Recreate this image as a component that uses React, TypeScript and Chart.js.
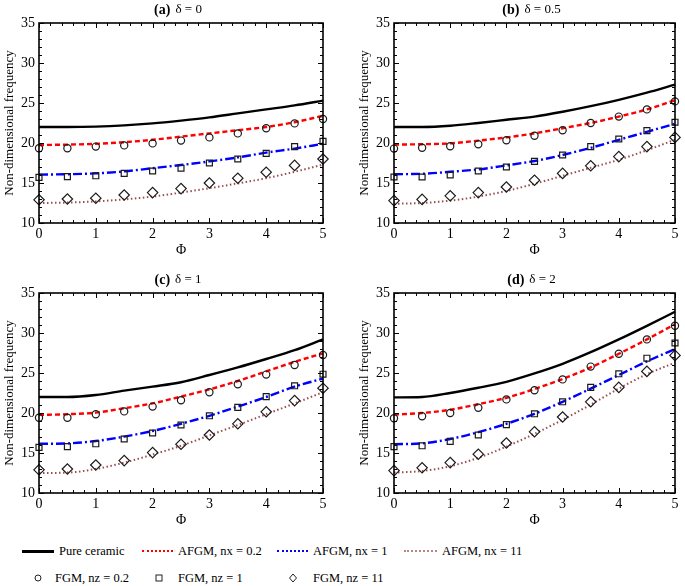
import React, { useEffect, useRef } from 'react';
import { Chart, registerables } from 'chart.js';

Chart.register(...registerables);

// ---------- data ----------
const phi = [0, 0.5, 1, 1.5, 2, 2.5, 3, 3.5, 4, 4.5, 5];
const xTicks = [0, 1, 2, 3, 4, 5];
const yTicks = [10, 15, 20, 25, 30, 35];

const seriesNames = [
  'Pure ceramic',
  'AFGM, nx = 0.2',
  'AFGM, nx = 1',
  'AFGM, nx = 11',
  'FGM, nz = 0.2',
  'FGM, nz = 1',
  'FGM, nz = 11',
];

// (a) δ = 0
const pureA = [22.0, 22.0, 22.05, 22.2, 22.45, 22.8, 23.2, 23.7, 24.2, 24.7, 25.3];
const afgm02A = [19.75, 19.8, 19.9, 20.1, 20.4, 20.8, 21.2, 21.6, 22.0, 22.6, 23.4];
const afgm1A = [16.05, 16.1, 16.2, 16.45, 16.85, 17.25, 17.7, 18.2, 18.8, 19.3, 19.9];
const afgm11A = [12.5, 12.55, 12.7, 12.95, 13.3, 13.8, 14.35, 14.95, 15.6, 16.4, 17.3];
const fgm02A = [19.35, 19.35, 19.55, 19.7, 19.95, 20.3, 20.7, 21.2, 21.85, 22.45, 23.0];
const fgm1A = [15.7, 15.8, 15.9, 16.2, 16.5, 16.85, 17.5, 18.0, 18.7, 19.55, 20.2];
const fgm11A = [12.9, 13.0, 13.1, 13.5, 13.8, 14.3, 15.0, 15.6, 16.35, 17.2, 18.0];

// (b) δ = 0.5
const pureB = [22.0, 22.0, 22.15, 22.5, 22.9, 23.3, 23.9, 24.6, 25.4, 26.3, 27.3];
const afgm02B = [19.8, 19.85, 19.95, 20.3, 20.7, 21.2, 21.85, 22.5, 23.3, 24.2, 25.35];
const afgm1B = [16.1, 16.15, 16.4, 16.7, 17.2, 17.75, 18.5, 19.4, 20.4, 21.4, 22.4];
const afgm11B = [12.4, 12.5, 12.8, 13.3, 14.0, 14.9, 15.9, 16.9, 17.9, 19.1, 20.4];
const fgm02B = [19.3, 19.4, 19.6, 19.85, 20.35, 20.9, 21.6, 22.5, 23.3, 24.2, 25.2];
const fgm1B = [15.75, 15.75, 16.0, 16.5, 17.0, 17.7, 18.5, 19.55, 20.5, 21.55, 22.6];
const fgm11B = [12.8, 12.95, 13.4, 13.8, 14.5, 15.35, 16.2, 17.15, 18.3, 19.55, 20.7];

// (c) δ = 1
const pureC = [22.0, 22.0, 22.25, 22.8, 23.3, 23.85, 24.75, 25.7, 26.75, 27.85, 29.2];
const afgm02C = [19.76, 19.85, 20.05, 20.6, 21.2, 22.05, 22.95, 24.0, 25.2, 26.4, 27.45];
const afgm1C = [16.15, 16.2, 16.5, 17.05, 17.75, 18.65, 19.65, 20.8, 22.0, 23.3, 24.3];
const afgm11C = [12.5, 12.55, 13.0, 13.8, 14.8, 15.9, 17.2, 18.5, 19.85, 21.2, 22.6];
const fgm02C = [19.4, 19.4, 19.85, 20.2, 20.8, 21.6, 22.6, 23.6, 24.8, 26.0, 27.25];
const fgm1C = [15.7, 15.8, 16.15, 16.75, 17.5, 18.5, 19.65, 20.7, 22.05, 23.4, 24.85];
const fgm11C = [12.9, 13.0, 13.5, 14.05, 15.05, 16.1, 17.25, 18.65, 20.15, 21.55, 23.1];

// (d) δ = 2
const pureD = [21.95, 22.0, 22.5, 23.15, 23.9, 24.95, 26.15, 27.6, 29.2, 30.9, 32.65];
const afgm02D = [19.8, 20.0, 20.4, 21.1, 21.9, 23.0, 24.25, 25.7, 27.4, 29.2, 31.1];
const afgm1D = [16.1, 16.2, 16.75, 17.6, 18.65, 19.9, 21.4, 23.05, 24.75, 26.45, 28.0];
const afgm11D = [12.55, 12.75, 13.35, 14.4, 15.8, 17.4, 19.15, 21.05, 23.05, 24.85, 26.3];
const fgm02D = [19.35, 19.6, 20.0, 20.65, 21.7, 22.85, 24.2, 25.8, 27.4, 29.2, 30.9];
const fgm1D = [15.8, 15.9, 16.45, 17.25, 18.55, 19.9, 21.4, 23.2, 24.9, 26.85, 28.75];
const fgm11D = [12.8, 13.15, 13.8, 14.85, 16.25, 17.65, 19.5, 21.4, 23.2, 25.2, 27.2];

const panelLabels = ['(a)', '(b)', '(c)', '(d)'];
const panelDeltas = ['δ = 0', 'δ = 0.5', 'δ = 1', 'δ = 2'];
const panelSeries = [
  [pureA, afgm02A, afgm1A, afgm11A, fgm02A, fgm1A, fgm11A],
  [pureB, afgm02B, afgm1B, afgm11B, fgm02B, fgm1B, fgm11B],
  [pureC, afgm02C, afgm1C, afgm11C, fgm02C, fgm1C, fgm11C],
  [pureD, afgm02D, afgm1D, afgm11D, fgm02D, fgm1D, fgm11D],
];

// ---------- styles ----------
const FONT = '"Liberation Serif", "Times New Roman", serif';
const lineColors = ['#000000', '#ff0000', '#0000ff', '#9a4d4d'];
const lineDashes: number[][] = [[], [5, 3], [9, 3, 2, 3], [1.5, 2.5]];
const lineWidths = [2.4, 2.4, 2.4, 2];
const markerStyles = ['circle', 'rect', 'rectRot'];
const markerRadius = [3.6, 4.2, 5.2];

const panelBoxes = [
  { left: 0, top: 0, width: 340, height: 262, padRight: 17 },
  { left: 355, top: 0, width: 330, height: 262, padRight: 10 },
  { left: 0, top: 270, width: 340, height: 262, padRight: 17 },
  { left: 355, top: 270, width: 330, height: 262, padRight: 10 },
];

const framePlugin = {
  id: 'frame',
  afterDraw(chart: any, _args: any, opts: any) {
    const { ctx, chartArea } = chart;
    const { left, right, top, bottom } = chartArea;
    const xs = chart.scales.x;
    const ys = chart.scales.y;
    ctx.save();
    ctx.strokeStyle = '#000';
    ctx.lineWidth = 1;
    ctx.beginPath();
    for (let i = 0; i <= 25; i++) {
      const px = Math.round(xs.getPixelForValue(i * 0.2)) + 0.5;
      const len = i % 5 === 0 ? 5 : 3;
      ctx.moveTo(px, bottom);
      ctx.lineTo(px, bottom - len);
      ctx.moveTo(px, top);
      ctx.lineTo(px, top + len);
    }
    for (let v = 10; v <= 35; v++) {
      const py = Math.round(ys.getPixelForValue(v)) + 0.5;
      const len = v % 5 === 0 ? 5 : 3;
      ctx.moveTo(left, py);
      ctx.lineTo(left + len, py);
      ctx.moveTo(right, py);
      ctx.lineTo(right - len, py);
    }
    ctx.stroke();
    ctx.lineWidth = 1.6;
    ctx.strokeRect(left, top, right - left, bottom - top);

    // title
    const boldTxt = opts.label || '';
    const restTxt = opts.delta || '';
    ctx.fillStyle = '#000';
    ctx.textBaseline = 'middle';
    ctx.textAlign = 'left';
    ctx.font = 'bold 14px ' + FONT;
    const w1 = ctx.measureText(boldTxt).width;
    ctx.font = '13px ' + FONT;
    const w2 = ctx.measureText(restTxt).width;
    const gap = 5;
    const total = w1 + gap + w2;
    const cx = (left + right) / 2 - 3;
    const x0 = cx - total / 2;
    const ty = top - 13;
    ctx.font = 'bold 14px ' + FONT;
    ctx.fillText(boldTxt, x0, ty);
    ctx.font = '13px ' + FONT;
    ctx.fillText(restTxt, x0 + w1 + gap, ty);
    ctx.restore();
  },
};

function Panel({ index }: { index: number }) {
  const ref = useRef<HTMLCanvasElement | null>(null);
  const box = panelBoxes[index];
  useEffect(() => {
    if (!ref.current) return;
    const series = panelSeries[index];
    const datasets: any[] = [];
    for (let k = 0; k < 4; k++) {
      datasets.push({
        label: seriesNames[k],
        data: phi.map((x, i) => ({ x, y: series[k][i] })),
        borderColor: lineColors[k],
        backgroundColor: lineColors[k],
        borderWidth: lineWidths[k],
        borderDash: lineDashes[k],
        pointRadius: 0,
        fill: false,
        cubicInterpolationMode: 'monotone',
        order: 2,
        clip: false,
      });
    }
    for (let k = 0; k < 3; k++) {
      datasets.push({
        label: seriesNames[4 + k],
        data: phi.map((x, i) => ({ x, y: series[4 + k][i] })),
        showLine: false,
        pointStyle: markerStyles[k],
        pointRadius: markerRadius[k],
        pointBorderColor: '#1a1a1a',
        pointBackgroundColor: 'rgba(255,255,255,0)',
        pointBorderWidth: 1.2,
        borderColor: '#1a1a1a',
        backgroundColor: 'rgba(255,255,255,0)',
        order: 1,
        clip: false,
      });
    }
    const tickFont = { family: FONT, size: 14 };
    const chart = new Chart(ref.current, {
      type: 'line',
      data: { datasets },
      options: {
        animation: false,
        responsive: false,
        devicePixelRatio: 1,
        events: [],
        layout: { padding: { top: 23, right: box.padRight, left: 0, bottom: 0 } },
        scales: {
          x: {
            type: 'linear',
            min: 0,
            max: 5,
            afterBuildTicks: (s: any) => {
              s.ticks = xTicks.map((v) => ({ value: v }));
            },
            ticks: { font: tickFont, color: '#000', padding: 3, maxRotation: 0, autoSkip: false },
            grid: { display: false, drawTicks: false },
            border: { display: false },
            title: {
              display: true,
              text: 'Φ',
              font: { family: FONT, size: 14 },
              color: '#000',
              padding: { top: 0, bottom: 3 },
            },
            afterFit: (s: any) => {
              s.height = 39;
            },
          },
          y: {
            type: 'linear',
            min: 10,
            max: 35,
            afterBuildTicks: (s: any) => {
              s.ticks = yTicks.map((v) => ({ value: v }));
            },
            ticks: { font: tickFont, color: '#000', padding: 4, autoSkip: false },
            grid: { display: false, drawTicks: false },
            border: { display: false },
            title: {
              display: true,
              text: 'Non-dimensional frequency',
              font: { family: FONT, size: 13 },
              color: '#000',
              padding: { top: 2, bottom: 0 },
            },
            afterFit: (s: any) => {
              s.width = 39;
            },
          },
        },
        plugins: {
          legend: { display: false },
          tooltip: { enabled: false },
          title: { display: false },
          // @ts-ignore
          frame: { label: panelLabels[index], delta: panelDeltas[index] },
        },
      } as any,
      plugins: [framePlugin as any],
    });
    return () => chart.destroy();
  }, [index]);
  return (
    <canvas
      ref={ref}
      width={box.width}
      height={box.height}
      style={{ position: 'absolute', left: box.left, top: box.top, width: box.width, height: box.height }}
    />
  );
}

const legendText: React.CSSProperties = {
  position: 'absolute',
  fontFamily: FONT,
  fontSize: 12.5,
  lineHeight: '16px',
  height: 16,
  whiteSpace: 'nowrap',
  color: '#000',
};

function LineSample({ left, top, width, color, style, thick }: any) {
  return (
    <div
      style={{
        position: 'absolute',
        left,
        top: top - Math.floor(thick / 2),
        width,
        height: 0,
        borderTop: `${thick}px ${style} ${color}`,
      }}
    />
  );
}

function Marker({ cx, cy, kind }: any) {
  const s = 12;
  let shape: any = null;
  if (kind === 'circle') shape = <circle cx={6} cy={6} r={3} fill="none" stroke="#222" strokeWidth={1} />;
  if (kind === 'rect') shape = <rect x={3} y={3} width={6} height={6} fill="none" stroke="#222" strokeWidth={1} />;
  if (kind === 'rectRot') shape = <polygon points="6,2 9.5,6 6,10 2.5,6" fill="none" stroke="#222" strokeWidth={1} />;
  return (
    <svg width={s} height={s} style={{ position: 'absolute', left: cx - 6, top: cy - 6 }}>
      {shape}
    </svg>
  );
}

function Legend() {
  const r1 = 551;
  const r2 = 578;
  return (
    <>
      <LineSample left={22} top={r1} width={32} color="#000" style="solid" thick={3} />
      <div style={{ ...legendText, left: 59, top: r1 - 8 }}>{seriesNames[0]}</div>
      <LineSample left={142} top={r1} width={31} color="#ff0000" style="dotted" thick={2} />
      <div style={{ ...legendText, left: 178, top: r1 - 8 }}>{seriesNames[1]}</div>
      <LineSample left={277} top={r1} width={31} color="#0000ff" style="dotted" thick={2} />
      <div style={{ ...legendText, left: 313, top: r1 - 8 }}>{seriesNames[2]}</div>
      <LineSample left={404} top={r1} width={33} color="#b98585" style="dotted" thick={2} />
      <div style={{ ...legendText, left: 442, top: r1 - 8 }}>{seriesNames[3]}</div>

      <Marker cx={38} cy={r2} kind="circle" />
      <div style={{ ...legendText, left: 55, top: r2 - 8 }}>{seriesNames[4]}</div>
      <Marker cx={159} cy={r2} kind="rect" />
      <div style={{ ...legendText, left: 178, top: r2 - 8 }}>{seriesNames[5]}</div>
      <Marker cx={293} cy={r2} kind="rectRot" />
      <div style={{ ...legendText, left: 313, top: r2 - 8 }}>{seriesNames[6]}</div>
    </>
  );
}

export default function App() {
  return (
    <div
      style={{
        position: 'absolute',
        left: 0,
        top: 0,
        width: 685,
        height: 586,
        background: '#fff',
        overflow: 'hidden',
      }}
    >
      {[0, 1, 2, 3].map((i) => (
        <Panel key={i} index={i} />
      ))}
      <Legend />
    </div>
  );
}
